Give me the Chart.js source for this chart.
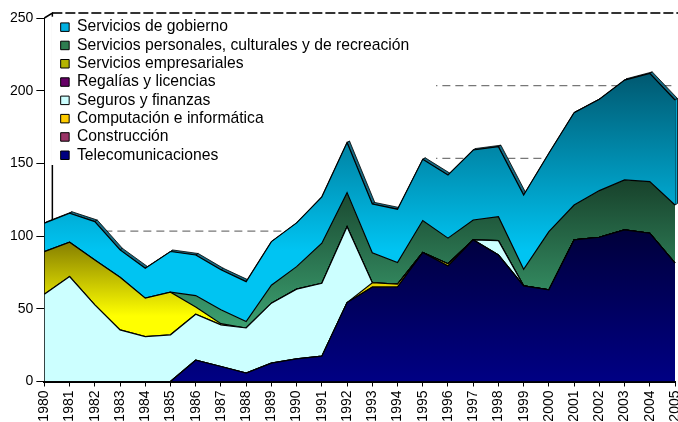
<!DOCTYPE html>
<html>
<head>
<meta charset="utf-8">
<script src="https://cdn.jsdelivr.net/npm/chart.js@4.4.1/dist/chart.umd.min.js"></script>
<style>
  html, body { margin: 0; padding: 0; background: #fff; }
  canvas { display: block; }
</style>
</head>
<body>
<canvas id="chart" width="678" height="422"></canvas>
<script>
// ====== Data ======
const years = ['1980','1981','1982','1983','1984','1985','1986','1987','1988','1989','1990','1991','1992',
               '1993','1994','1995','1996','1997','1998','1999','2000','2001','2002','2003','2004','2005'];

const telecom       = [0, 0, 0, 0, 0, 0, 14.6, 10.3, 5.8, 12.6, 15.6, 17.4, 54.3, 64.9, 65, 88.7, 79.5, 97.4, 87, 65.8, 63, 97.4, 99.2, 104.3, 102, 81.4];
const construccion  = [0, 0, 0, 0, 0, 0, 0, 0, 0, 0, 0, 0, 0, 0, 0, 0, 0, 0, 0, 0, 0, 0, 0, 0, 0, 0];
const computacion   = [0, 0, 0, 0, 0, 0, 0, 0, 0, 0, 0, 0, 0, 3, 2, 0, 1.5, 0, 0, 0, 0, 0, 0, 0, 0, 0];
const seguros       = [60, 72.2, 52.7, 35.5, 30.9, 32.1, 31.7, 28.7, 31, 41.3, 47.9, 50.2, 52.2, 0, 0, 0, 0, 0, 9.9, 0, 0, 0, 0, 0, 0, 0];
const regalias      = [0, 0, 0, 0, 0, 0, 0, 0, 0, 0, 0, 0, 0, 0, 0, 0, 0, 0, 0, 0, 0, 0, 0, 0, 0, 0];
const empresariales = [29.3, 23.6, 30.9, 36.2, 26.4, 29.3, 5, 0.8, 0, 0, 0, 0, 0, 0, 0, 0, 0, 0, 0, 0, 0, 0, 0, 0, 0, 0];
const personales    = [0, 0, 0, 0, 0, 0, 7.8, 9.5, 4.4, 12.3, 15.5, 27.5, 23.4, 20.6, 14.8, 22, 17.6, 13.7, 16.5, 11.4, 40.1, 24, 32.1, 34.3, 35.5, 40];
const gobierno      = [19.6, 19.9, 26.4, 18.8, 20.6, 28, 27.9, 27.5, 27.5, 30, 30.1, 31.9, 34.4, 33.6, 36.7, 42.1, 43.4, 48.1, 48.1, 51.1, 53.9, 63.5, 62.8, 68.7, 74.4, 72.2];

const yTicks = [0, 50, 100, 150, 200, 250];

// vertical gradient given as [value, colour] stops, mapped through the y scale
function grad(stops, fallback) {
    return (context) => {
        const chart = context.chart;
        const y = chart.scales.y;
        if (!chart.chartArea || !y) return fallback;
        const y0 = y.getPixelForValue(stops[0][0]);
        const y1 = y.getPixelForValue(stops[stops.length - 1][0]);
        const g = chart.ctx.createLinearGradient(0, y0, 0, y1);
        stops.forEach(s => g.addColorStop((y.getPixelForValue(s[0]) - y0) / (y1 - y0), s[1]));
        return g;
    };
}

const series = [
    { label: 'Telecomunicaciones', data: telecom, swatch: '#000080',
      fill: grad([[105, '#00003a'], [0, '#000084']], '#000080') },
    { label: 'Construcción', data: construccion, swatch: '#993366', fill: '#993366' },
    { label: 'Computación e informática', data: computacion, swatch: '#ffcc00', fill: '#e8d400' },
    { label: 'Seguros y finanzas', data: seguros, swatch: '#ccffff', fill: '#ccffff' },
    { label: 'Regalías y licencias', data: regalias, swatch: '#660066', fill: '#660066' },
    { label: 'Servicios empresariales', data: empresariales, swatch: '#b4b400',
      fill: grad([[96, '#857e00'], [45, '#ffff00']], '#cccc00') },
    { label: 'Servicios personales, culturales y de recreación', data: personales, swatch: '#2e7d50',
      fill: grad([[140, '#17402a'], [40, '#3b9e6f']], '#2e7d50') },
    { label: 'Servicios de gobierno', data: gobierno, swatch: '#00b0e0',
      fill: grad([[210, '#005a72'], [90, '#00c4f2']], '#00b0e0') }
];

// ====== 3D look: back wall, legend background, top face ======
const wall = { dx: 8, dy: -5 };
const face = { dx: 2.5, dy: -1.5 };
const legendBox = { left: 13.7, top: -1.3, right: 436, bottom: 165 };

const threeD = {
    id: 'threeD',
    afterLayout(chart) {
        chart.legend.left = chart.chartArea.left + legendBox.left;
        chart.legend.top = chart.chartArea.top + legendBox.top;
    },
    beforeDraw(chart) {
        const { ctx, chartArea: a, scales: { y } } = chart;
        ctx.save();
        yTicks.forEach(v => {
            if (v === 0) return;
            const py = y.getPixelForValue(v) + wall.dy;
            ctx.beginPath();
            ctx.setLineDash(v === 250 ? [10, 3] : [8, 5]);
            ctx.strokeStyle = v === 250 ? '#333' : '#777';
            ctx.lineWidth = v === 250 ? 2 : 1.3;
            ctx.moveTo(a.left + wall.dx, py);
            ctx.lineTo(v === 250 ? a.right + wall.dx : a.right, py);
            ctx.stroke();
        });
        ctx.setLineDash([]);
        ctx.strokeStyle = '#000';
        ctx.lineWidth = 1.5;
        ctx.beginPath();
        ctx.moveTo(a.left, a.top);
        ctx.lineTo(a.left + wall.dx, a.top + wall.dy);
        ctx.lineTo(a.left + wall.dx, a.bottom + wall.dy);
        ctx.stroke();
        // white legend box
        const lg = chart.legend;
        ctx.fillStyle = '#fff';
        ctx.fillRect(lg.left - 7, lg.top, legendBox.right - lg.left + 7, legendBox.bottom - lg.top);
        ctx.restore();
    },
    beforeDatasetsDraw(chart) {
        const ctx = chart.ctx;
        const top = chart.getDatasetMeta(series.length - 1).data;
        const below = chart.getDatasetMeta(series.length - 2).data;
        ctx.save();
        ctx.fillStyle = '#176b83';
        ctx.strokeStyle = '#000';
        ctx.lineWidth = 0.8;
        for (let i = 0; i < top.length - 1; i++) {
            const p = top[i], q = top[i + 1];
            ctx.beginPath();
            ctx.moveTo(p.x, p.y);
            ctx.lineTo(q.x, q.y);
            ctx.lineTo(q.x + face.dx, q.y + face.dy);
            ctx.lineTo(p.x + face.dx, p.y + face.dy);
            ctx.closePath();
            ctx.fill();
            ctx.stroke();
        }
        // right side face of the top series
        const l = top[top.length - 1], b = below[below.length - 1];
        ctx.fillStyle = '#00a6d0';
        ctx.beginPath();
        ctx.moveTo(l.x, l.y);
        ctx.lineTo(l.x + face.dx, l.y + face.dy);
        ctx.lineTo(b.x + face.dx, b.y + face.dy);
        ctx.lineTo(b.x, b.y);
        ctx.closePath();
        ctx.fill();
        ctx.stroke();
        ctx.restore();
    }
};

const font = { family: "'Liberation Sans', Arial, sans-serif", size: 14 };

new Chart(document.getElementById('chart').getContext('2d'), {
    type: 'line',
    data: {
        labels: years,
        datasets: series.map((s, i) => ({
            label: s.label,
            data: s.data,
            backgroundColor: s.fill,
            borderColor: '#000',
            borderWidth: 1.2,
            pointRadius: 0,
            tension: 0,
            fill: i === 0 ? 'origin' : '-1'
        }))
    },
    options: {
        responsive: false,
        animation: false,
        devicePixelRatio: 1,
        layout: { padding: { left: 7, top: 18, right: 3, bottom: 0 } },
        scales: {
            x: {
                offset: false,
                grid: { display: true, drawOnChartArea: false, drawTicks: true, tickLength: 5, color: '#000' },
                border: { display: true, color: '#000', width: 2 },
                ticks: { color: '#000', font: font, minRotation: 90, maxRotation: 90, autoSkip: false, padding: 4 },
                afterFit(scale) { scale.paddingRight = 0; scale.paddingLeft = 0; scale.height = 40.5; }
            },
            y: {
                stacked: true,
                min: 0,
                max: 250,
                grid: { display: true, drawOnChartArea: false, drawTicks: true, tickLength: 8, color: '#000' },
                border: { display: true, color: '#000', width: 1 },
                ticks: { color: '#000', font: font, stepSize: 50, padding: 3 }
            }
        },
        plugins: {
            tooltip: { enabled: false },
            legend: {
                position: 'chartArea',
                align: 'start',
                labels: {
                    font: { family: font.family, size: 15.7 },
                    color: '#000',
                    boxWidth: 8.5,
                    boxHeight: 8.5,
                    padding: 2.6,
                    generateLabels: () => series.map((s, i) => ({
                        text: s.label,
                        fillStyle: s.swatch,
                        strokeStyle: '#000',
                        lineWidth: 1,
                        hidden: false,
                        datasetIndex: i
                    })).reverse()
                }
            }
        }
    },
    plugins: [threeD]
});
</script>
</body>
</html>
